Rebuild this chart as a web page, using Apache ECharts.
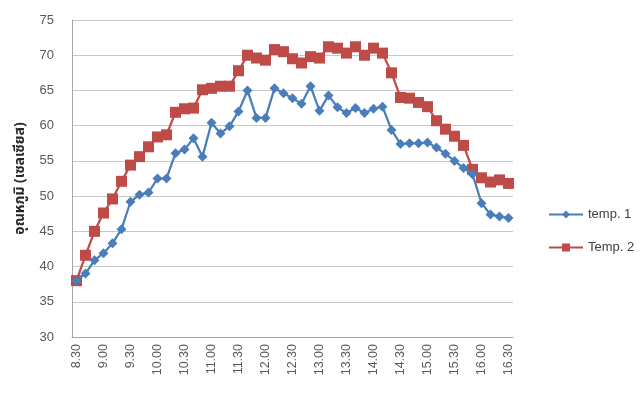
<!DOCTYPE html>
<html><head><meta charset="utf-8">
<script src="https://cdn.jsdelivr.net/npm/echarts@6/dist/echarts.min.js"></script>
<style>html,body{margin:0;padding:0;background:#fff}#c{width:640px;height:394px}</style>
</head><body><div id="c"></div>
<script>
const times = ["8.30","8.40","8.50","9.00","9.10","9.20","9.30","9.40","9.50","10.00","10.10","10.20","10.30","10.40","10.50","11.00","11.10","11.20","11.30","11.40","11.50","12.00","12.10","12.20","12.30","12.40","12.50","13.00","13.10","13.20","13.30","13.40","13.50","14.00","14.10","14.20","14.30","14.40","14.50","15.00","15.10","15.20","15.30","15.40","15.50","16.00","16.10","16.20","16.30"];
const temp1 = [38.0,39.0,40.9,41.9,43.3,45.3,49.2,50.2,50.5,52.5,52.5,56.1,56.6,58.2,55.6,60.4,58.9,59.9,62.0,65.0,61.1,61.1,65.3,64.6,63.9,63.1,65.6,62.1,64.3,62.6,61.8,62.5,61.8,62.4,62.7,59.4,57.4,57.5,57.5,57.6,56.9,56.0,55.0,54.0,53.1,49.0,47.4,47.1,46.9];
const temp2 = [38.0,41.6,45.0,47.6,49.6,52.1,54.4,55.6,57.0,58.4,58.7,61.9,62.4,62.5,65.1,65.3,65.6,65.6,67.8,70.0,69.6,69.3,70.8,70.5,69.5,68.9,69.8,69.6,71.2,71.0,70.3,71.2,70.0,71.0,70.3,67.5,64.0,63.9,63.3,62.7,60.7,59.5,58.5,57.2,53.8,52.6,52.0,52.3,51.8];
const yTitle = "อุณหภูมิ (เซลเซียส)";
const names = ["temp. 1","Temp. 2"];

const chart = echarts.init(document.getElementById('c'), null, {renderer:'canvas'});
const lblFont = "'Liberation Sans', Arial, sans-serif";
chart.setOption({
  animation:false,
  backgroundColor:'#fff',
  grid:{left:72,right:127,top:20,bottom:57},
  legend:{
    orient:'vertical', left:543, top:203, itemWidth:34, itemHeight:10, itemGap:20,
    textStyle:{color:'#404040', fontSize:13, fontFamily:lblFont},
    data:names
  },
  xAxis:{
    type:'category', data:times, boundaryGap:true,
    axisLine:{lineStyle:{color:'#a6a6a6'}},
    axisTick:{show:false},
    axisLabel:{interval:2, rotate:90, color:'#595959', fontSize:12.5, fontFamily:lblFont, margin:7}
  },
  yAxis:{
    type:'value', min:30, max:75, interval:5,
    name:yTitle, nameLocation:'middle', nameGap:42, nameRotate:90,
    nameTextStyle:{color:'#262626', fontSize:14, fontWeight:'bold', fontFamily:"'Noto Sans Thai','Noto Sans','DejaVu Sans', sans-serif"},
    axisLine:{show:true, lineStyle:{color:'#a6a6a6'}},
    axisTick:{show:false},
    axisLabel:{color:'#595959', fontSize:13, fontFamily:lblFont, margin:18},
    splitLine:{lineStyle:{color:'#c8c8c8', width:1}}
  },
  series:[
    {name:names[0], type:'line', data:temp1, symbol:'diamond', symbolSize:10, showAllSymbol:true,
     lineStyle:{color:'#4a7ebb', width:2.25}, itemStyle:{color:'#4a7ebb'}, z:3},
    {name:names[1], type:'line', data:temp2, symbol:'rect', symbolSize:11, showAllSymbol:true,
     lineStyle:{color:'#be4b48', width:2.25}, itemStyle:{color:'#be4b48'}, z:2}
  ]
});
</script></body></html>
